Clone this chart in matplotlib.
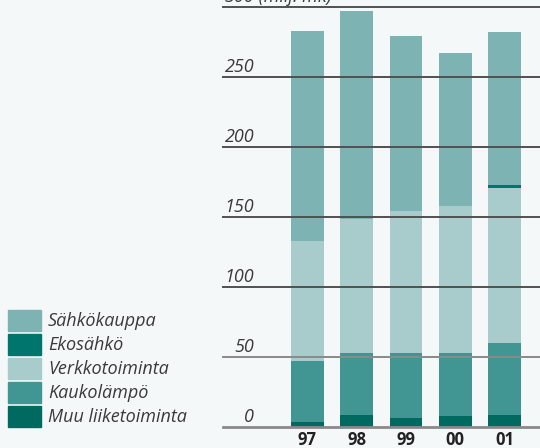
import matplotlib.pyplot as plt
from matplotlib.patches import Rectangle
import numpy as np

# data (milj. mk)
years = ['97', '98', '99', '00', '01']
series = ['Muu liiketoiminta', 'Kaukolämpö', 'Verkkotoiminta', 'Ekosähkö', 'Sähkökauppa']
muu = [3.5, 8.5, 6.5, 8, 8.5]
kaukolampo = [43.5, 44.5, 46.5, 45, 51.5]
verkko = [86, 95.5, 101, 105, 111]
eko = [0, 0, 0, 0, 2]
sahko = [150, 148.5, 125, 109, 109]
values = [muu, kaukolampo, verkko, eko, sahko]
colors = ['#006a60', '#419592', '#a8cbcc', '#00756e', '#7db3b3']
yticks = [0, 50, 100, 150, 200, 250, 300]

bg = '#f4f8f9'
W, H = 540, 448
fig = plt.figure(figsize=(W / 100, H / 100), dpi=100, facecolor=bg)
ax = fig.add_axes([223 / W, (H - 427) / H, 317 / W, 420 / H], facecolor=bg)

x = np.arange(len(years))
bottom = np.zeros(len(years))
for vals, col in zip(values, colors):
    ax.bar(x, vals, width=0.67, bottom=bottom, color=col, zorder=2)
    bottom += np.array(vals)

ax.set_xlim((223 - 307.5) / 49.25, (540 - 307.5) / 49.25)
ax.set_ylim(0, 300)

lab_font = dict(fontsize=13, style='italic', family='Open Sans', color='#3a3a3a',
                clip_on=False)
for t in yticks:
    c = '#8a8a8a' if t in (0, 50) else '#505050'
    lw = 2.0 if t == 0 else 1.4
    ax.axhline(t, color=c, lw=lw, zorder=3, clip_on=False)
    ax.text(0.098, t + 0.6, str(t), transform=ax.get_yaxis_transform(), ha='right',
            va='bottom', **lab_font)
ax.text(0.098, 300.6, ' (milj. mk)', transform=ax.get_yaxis_transform(), ha='left',
        va='bottom', **lab_font)

ax.set_xticks(x)
ax.set_xticklabels(years, fontsize=12, fontweight='bold', family='Open Sans', color='#222222')
ax.tick_params(axis='x', length=0, pad=3)
ax.set_yticks([])
for s in ax.spines.values():
    s.set_visible(False)

# legend, top entry first
for i, (name, col) in enumerate(zip(series[::-1], colors[::-1])):
    y0 = H - (310 + 24 * i)
    fig.patches.append(Rectangle((8 / W, (y0 - 21) / H), 33 / W, 21 / H, color=col,
                                 transform=fig.transFigure, figure=fig))
    fig.text(48 / W, (y0 - 10.5) / H, name, ha='left', va='center', fontsize=13,
             style='italic', family='Open Sans', color='#3a3a3a')

fig.savefig('out.png', dpi=100, facecolor=bg)
